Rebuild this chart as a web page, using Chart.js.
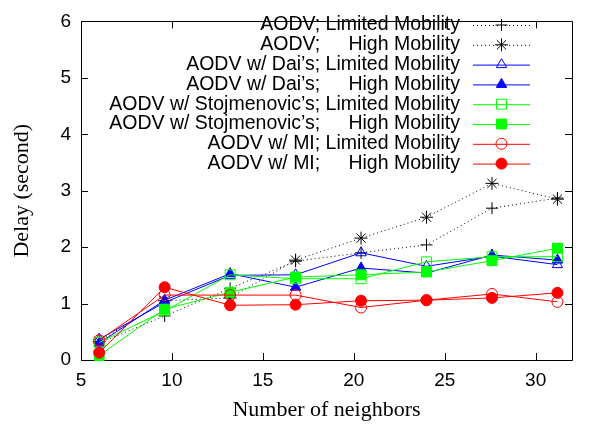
<!DOCTYPE html>
<html lang="en">
<head>
<meta charset="UTF-8">
<title>Delay x Number of neighbors</title>
<script src="https://cdn.jsdelivr.net/npm/chart.js"></script>
<style>
    body { margin: 0; background: #fff; }
</style>
</head>
<body>
<canvas id="grafico" width="590" height="425"></canvas>
<script>
    // dados
    const vizinhos = [6.0, 9.6, 13.2, 16.8, 20.4, 24.0, 27.6, 31.2]

    const aodvLimited = [0.30, 0.78, 1.27, 1.75, 1.90, 2.04, 2.69, 2.87]
    const aodvHigh    = [0.33, 1.05, 1.10, 1.77, 2.16, 2.53, 3.13, 2.85]
    const daiLimited  = [0.37, 1.02, 1.50, 1.51, 1.90, 1.66, 1.84, 1.69]
    const daiHigh     = [0.30, 1.06, 1.53, 1.29, 1.63, 1.54, 1.86, 1.77]
    const stojLimited = [0.31, 0.87, 1.51, 1.44, 1.44, 1.74, 1.83, 1.83]
    const stojHigh    = [0.08, 0.90, 1.20, 1.47, 1.51, 1.56, 1.76, 1.98]
    const miLimited   = [0.35, 1.15, 1.15, 1.15, 0.93, 1.06, 1.17, 1.03]
    const miHigh      = [0.13, 1.29, 0.97, 0.98, 1.05, 1.06, 1.10, 1.19]

    const nomes = ['AODV;', 'AODV;', 'AODV w/ Dai\u2019s;', 'AODV w/ Dai\u2019s;',
        'AODV w/ Stojmenovic\u2019s;', 'AODV w/ Stojmenovic\u2019s;', 'AODV w/ MI;', 'AODV w/ MI;']
    const mobilidade = ['Limited Mobility', 'High Mobility', 'Limited Mobility', 'High Mobility',
        'Limited Mobility', 'High Mobility', 'Limited Mobility', 'High Mobility']

    const ticksX = [5, 10, 15, 20, 25, 30]
    const ticksY = [0, 1, 2, 3, 4, 5, 6]

    const series = [aodvLimited, aodvHigh, daiLimited, daiHigh, stojLimited, stojHigh, miLimited, miHigh]
    const cores = ['#000000', '#000000', '#0000ff', '#0000ff', '#00ff00', '#00ff00', '#ff0000', '#ff0000']
    const simbolos = ['cross', 'star', 'triangle', 'triangle', 'rect', 'rect', 'circle', 'circle']
    const raios = [6, 6.5, 6, 6, 7, 7, 5.5, 5.5]
    const cheio = [true, true, false, true, false, true, false, true]
    const tracos = [[1, 3], [1, 3], [], [], [], [], [], []]

    const fonte = 'Liberation Sans, Arial, sans-serif'
    const fonteSerif = 'Liberation Serif, Times New Roman, serif'

    const datasets = series.map((valores, i) => ({
        label: nomes[i] + ' ' + mobilidade[i],
        data: valores.map((v, j) => ({ x: vizinhos[j], y: v })),
        borderColor: cores[i],
        backgroundColor: cores[i],
        pointBackgroundColor: cheio[i] ? cores[i] : 'rgba(0,0,0,0)',
        pointBorderColor: cores[i],
        pointStyle: simbolos[i],
        pointRadius: raios[i],
        pointBorderWidth: 1,
        borderWidth: 1,
        borderDash: tracos[i],
        tension: 0,
        clip: false,
        order: series.length - i
    }))

    // moldura com ticks para dentro, estilo gnuplot
    const moldura = {
        id: 'moldura',
        beforeDatasetsDraw(chart) {
            const ctx = chart.ctx
            const a = chart.chartArea
            const sx = chart.scales.x
            const sy = chart.scales.y
            const t = 7
            ctx.save()
            ctx.strokeStyle = '#000'
            ctx.lineWidth = 1
            ctx.beginPath()
            ctx.rect(Math.round(a.left) + 0.5, Math.round(a.top) + 0.5,
                Math.round(a.right - a.left), Math.round(a.bottom - a.top))
            ticksX.forEach(v => {
                const x = Math.round(sx.getPixelForValue(v)) + 0.5
                ctx.moveTo(x, a.bottom); ctx.lineTo(x, a.bottom - t)
                ctx.moveTo(x, a.top); ctx.lineTo(x, a.top + t)
            })
            ticksY.forEach(v => {
                const y = Math.round(sy.getPixelForValue(v)) + 0.5
                ctx.moveTo(a.left, y); ctx.lineTo(a.left + t, y)
                ctx.moveTo(a.right, y); ctx.lineTo(a.right - t, y)
            })
            ctx.stroke()
            ctx.restore()
        }
    }

    // legenda a direita, texto alinhado a direita
    const legenda = {
        id: 'legenda',
        afterDatasetsDraw(chart) {
            const ctx = chart.ctx
            const xTexto = 460
            const x0 = 473, x1 = 530, xm = 501.5
            ctx.save()
            ctx.font = '19.5px ' + fonte
            ctx.textBaseline = 'middle'
            ctx.textAlign = 'right'
            const recuo = ctx.measureText(' Limited Mobility').width
            chart.data.datasets.forEach((ds, i) => {
                const y = 25 + i * 19.8
                ctx.fillStyle = '#000'
                ctx.fillText(mobilidade[i], xTexto, y)
                ctx.fillText(nomes[i], xTexto - recuo, y)
                ctx.strokeStyle = ds.borderColor
                ctx.lineWidth = 1
                ctx.setLineDash(ds.borderDash)
                ctx.beginPath()
                ctx.moveTo(x0, y + 0.5)
                ctx.lineTo(x1, y + 0.5)
                ctx.stroke()
                ctx.setLineDash([])
                ctx.fillStyle = ds.pointBackgroundColor
                ctx.strokeStyle = ds.pointBorderColor
                if (Chart.helpers && Chart.helpers.drawPoint) {
                    Chart.helpers.drawPoint(ctx, {
                        pointStyle: ds.pointStyle, radius: ds.pointRadius,
                        rotation: 0, borderWidth: 1
                    }, xm, y)
                } else {
                    ctx.beginPath()
                    ctx.arc(xm, y, ds.pointRadius, 0, Math.PI * 2)
                    ctx.fill(); ctx.stroke()
                }
            })
            ctx.restore()
        }
    }

    new Chart(
        grafico,
        {
            type: 'line',
            data: { datasets: datasets },
            options: {
                responsive: false,
                animation: false,
                layout: { padding: { top: 10, right: 18, left: 0, bottom: 0 } },
                plugins: {
                    legend: { display: false },
                    tooltip: { enabled: false }
                },
                scales: {
                    x: {
                        type: 'linear',
                        min: 5,
                        max: 32,
                        grid: { display: false, drawTicks: false },
                        border: { display: false },
                        afterBuildTicks: s => { s.ticks = ticksX.map(v => ({ value: v })) },
                        afterFit: s => { s.height = 65 },
                        ticks: {
                            color: '#000',
                            padding: 9,
                            maxRotation: 0,
                            font: { family: fonte, size: 19 }
                        },
                        title: {
                            display: true,
                            text: 'Number of neighbors',
                            color: '#000',
                            padding: { top: 0, bottom: 2 },
                            font: { family: fonteSerif, size: 22, lineHeight: 1.2 }
                        }
                    },
                    y: {
                        min: 0,
                        max: 6,
                        grid: { display: false, drawTicks: false },
                        border: { display: false },
                        afterBuildTicks: s => { s.ticks = ticksY.map(v => ({ value: v })) },
                        afterFit: s => { s.width = 81 },
                        ticks: {
                            color: '#000',
                            padding: 10,
                            font: { family: fonte, size: 19 }
                        },
                        title: {
                            display: true,
                            text: 'Delay (second)',
                            color: '#000',
                            padding: { top: 9, bottom: 0 },
                            font: { family: fonteSerif, size: 22, lineHeight: 1.2 }
                        }
                    }
                }
            },
            plugins: [moldura, legenda]
        }
    )
</script>
</body>
</html>
